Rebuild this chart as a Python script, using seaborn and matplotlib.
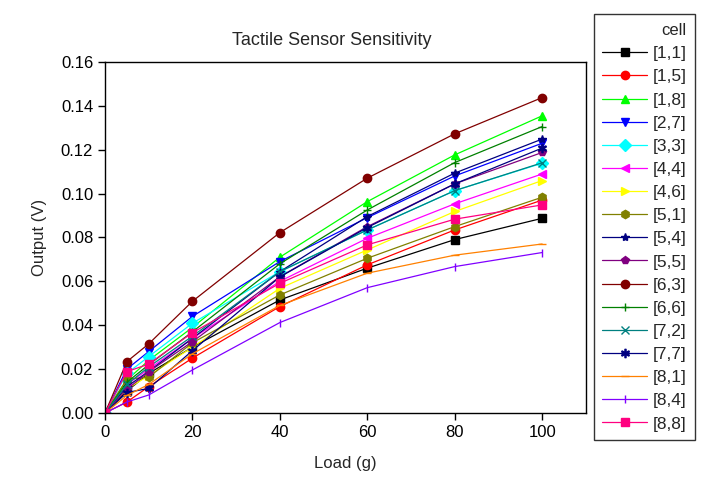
import pandas as pd
import matplotlib
matplotlib.use("Agg")
import matplotlib.pyplot as plt
import seaborn as sns

load_g = [0, 5, 10, 20, 40, 60, 80, 100]

cells = ["[1,1]", "[1,5]", "[1,8]", "[2,7]", "[3,3]", "[4,4]", "[4,6]", "[5,1]", "[5,4]",
         "[5,5]", "[6,3]", "[6,6]", "[7,2]", "[7,7]", "[8,1]", "[8,4]", "[8,8]"]

c11 = [0, 0.010, 0.018, 0.030, 0.0515, 0.066, 0.079, 0.0887]
c15 = [0, 0.005, 0.012, 0.025, 0.0485, 0.0675, 0.0834, 0.097]
c18 = [0, 0.015, 0.024, 0.039, 0.071, 0.0963, 0.1176, 0.1354]
c27 = [0, 0.020, 0.028, 0.044, 0.069, 0.089, 0.108, 0.1229]
c33 = [0, 0.018, 0.0257, 0.0409, 0.0644, 0.0834, 0.1013, 0.1138]
c44 = [0, 0.013, 0.020, 0.034, 0.060, 0.0796, 0.0953, 0.1089]
c46 = [0, 0.011, 0.017, 0.030, 0.0568, 0.0743, 0.0918, 0.1059]
c51 = [0, 0.0154, 0.0163, 0.032, 0.0538, 0.0705, 0.0849, 0.0983]
c54 = [0, 0.012, 0.019, 0.034, 0.0644, 0.0895, 0.1093, 0.1248]
c55 = [0, 0.0108, 0.0188, 0.0325, 0.0621, 0.0849, 0.1044, 0.1187]
c63 = [0, 0.0234, 0.0315, 0.0509, 0.0822, 0.107, 0.1272, 0.1437]
c66 = [0, 0.014, 0.022, 0.037, 0.068, 0.0925, 0.1141, 0.1305]
c72 = [0, 0.013, 0.021, 0.035, 0.0644, 0.0834, 0.1013, 0.114]
c77 = [0, 0.0093, 0.0112, 0.0284, 0.062, 0.0845, 0.1044, 0.1207]
c81 = [0, 0.008, 0.013, 0.027, 0.049, 0.0637, 0.0719, 0.077]
c84 = [0, 0.005, 0.0082, 0.0196, 0.0412, 0.0571, 0.0667, 0.0731]
c88 = [0, 0.0188, 0.0223, 0.0366, 0.0591, 0.0766, 0.0883, 0.0948]

series = [c11, c15, c18, c27, c33, c44, c46, c51, c54, c55, c63, c66, c72, c77, c81, c84, c88]

colors = ["#000000", "#FF0000", "#00FF00", "#0000FF", "#00FFFF", "#FF00FF", "#FFFF00",
          "#808000", "#000080", "#800080", "#800000", "#008000", "#008080", "#000080",
          "#FF8000", "#8000FF", "#FF0080"]
markers = ["s", "o", "^", "v", "D", "<", ">", "h", "*", "p", "o", "+", "x", "$\\ast$",
           "_", "|", "s"]

rows = []
for name, vals in zip(cells, series):
    for x, y in zip(load_g, vals):
        rows.append({"cell": name, "Load (g)": x, "Output (V)": y})
df = pd.DataFrame(rows)

sns.set_style("ticks")
plt.rcParams["font.family"] = ["Liberation Sans", "DejaVu Sans"]

fig = plt.figure(figsize=(7.05, 4.83), dpi=100)
ax = fig.add_axes([0.149, 0.145, 0.682, 0.727])

for name, col, mk in zip(cells, colors, markers):
    sub = df[df["cell"] == name]
    sns.lineplot(data=sub, x="Load (g)", y="Output (V)", color=col, marker=mk,
                 markersize=6, markeredgecolor=col, markeredgewidth=1.0,
                 linewidth=0.9, label=name, ax=ax)

ax.set_xlim(0, 110)
ax.set_ylim(0, 0.16)
ax.set_xticks([0, 20, 40, 60, 80, 100])
ax.set_yticks([0, 0.02, 0.04, 0.06, 0.08, 0.10, 0.12, 0.14, 0.16])
ax.set_yticklabels([f"{v:.2f}" for v in ax.get_yticks()])
ax.tick_params(labelsize=12, length=5, width=1, colors="black")
for s in ax.spines.values():
    s.set_visible(True)
    s.set_color("black")
    s.set_linewidth(1)
ax.set_xlabel("Load (g)", fontsize=12, labelpad=12)
ax.set_ylabel("Output (V)", fontsize=12, labelpad=10)
ax.set_title("Tactile Sensor Sensitivity", fontsize=13, pad=12, x=0.472)

handles, labels = ax.get_legend_handles_labels()
ax.get_legend().remove()
leg = fig.legend(handles, labels, title="cell", loc="upper left",
                 bbox_to_anchor=(0.842, 0.97), frameon=True, fancybox=False,
                 edgecolor="black", fontsize=12.5, title_fontsize=12,
                 handlelength=2.6, handletextpad=0.3, labelspacing=0.46,
                 borderpad=0.5, borderaxespad=0.0, alignment="right")
leg.get_frame().set_linewidth(1)

fig.savefig("out.png", dpi=100, facecolor="white")
